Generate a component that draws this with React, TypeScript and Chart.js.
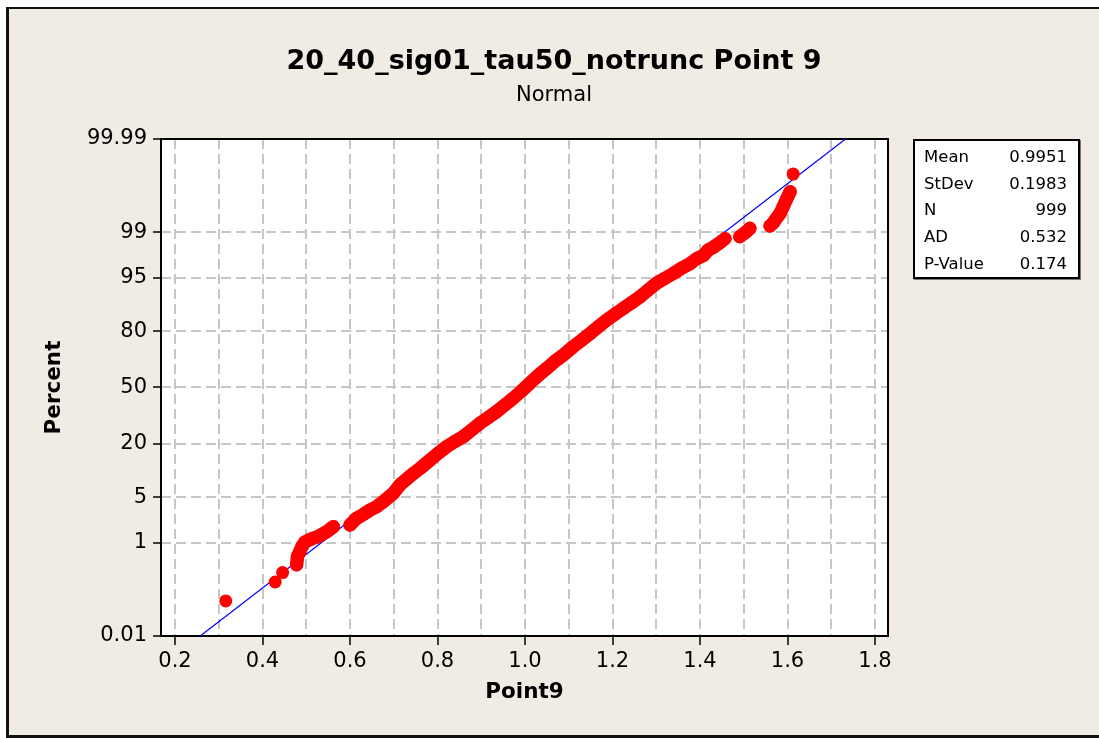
import React, { useEffect, useRef } from "react";
import { Chart, registerables } from "chart.js";

Chart.register(...registerables);

const FONT = "'DejaVu Sans', Verdana, sans-serif";

const chartTitle = "20_40_sig01_tau50_notrunc Point 9";
const chartSubtitle = "Normal";
const xAxisTitle = "Point9";
const yAxisTitle = "Percent";

const xTickLabels = [0.2, 0.4, 0.6, 0.8, 1.0, 1.2, 1.4, 1.6, 1.8];
const xGridValues = [0.2, 0.3, 0.4, 0.5, 0.6, 0.7, 0.8, 0.9, 1.0, 1.1, 1.2, 1.3, 1.4, 1.5, 1.6, 1.7, 1.8];
const yTickPercents = [0.01, 1, 5, 20, 50, 80, 95, 99, 99.99];
const yTickLabels = ["0.01", "1", "5", "20", "50", "80", "95", "99", "99.99"];

// points: data value and plotted percent
const pointX = [
  0.316, 0.429, 0.446, 0.478, 0.48, 0.49, 0.497, 0.509, 0.528, 0.547, 0.562,
  0.6, 0.615, 0.63, 0.646, 0.661, 0.676, 0.699, 0.714, 0.73, 0.745, 0.764, 0.783,
  0.801, 0.821, 0.84, 0.859, 0.878, 0.897, 0.916, 0.935, 0.954, 0.973, 0.992,
  1.011, 1.03, 1.05, 1.069, 1.088, 1.11, 1.13, 1.149, 1.168, 1.187, 1.206, 1.225,
  1.244, 1.263, 1.282, 1.301, 1.32, 1.339, 1.358, 1.377, 1.392, 1.408, 1.418,
  1.43, 1.446, 1.457, 1.491, 1.505, 1.514, 1.56, 1.568, 1.575, 1.583, 1.59,
  1.597, 1.606, 1.613,
];
const pointPercent = [
  0.07, 0.18, 0.28, 0.4, 0.57, 0.86, 1.04, 1.15, 1.29, 1.55, 1.86,
  1.98, 2.51, 2.87, 3.34, 3.72, 4.37, 5.67, 7.23, 8.55, 9.96, 11.7, 13.9,
  16.2, 18.8, 21.0, 23.1, 26.2, 29.6, 32.7, 35.9, 39.7, 43.6, 47.9,
  52.5, 57.1, 61.3, 65.4, 68.7, 72.9, 76.1, 79.1, 81.9, 84.4, 86.4, 88.2,
  89.8, 91.3, 92.8, 94.1, 94.9, 95.6, 96.3, 96.8, 97.3, 97.6, 98.0,
  98.2, 98.5, 98.7, 98.8, 99.0, 99.14, 99.22, 99.32, 99.44, 99.54, 99.66,
  99.75, 99.83, 99.93,
];
// indices where a new contiguous run of points begins
const segmentStarts = [0, 1, 2, 3, 11, 60, 63, 70];

const statLabels = ["Mean", "StDev", "N", "AD", "P-Value"];
const statValues = ["0.9951", "0.1983", "999", "0.532", "0.174"];
const fitMean = 0.9951;
const fitStDev = 0.1983;

function probit(p: number): number {
  const a = [-3.969683028665376e1, 2.209460984245205e2, -2.759285104469687e2, 1.38357751867269e2, -3.066479806614716e1, 2.506628277459239];
  const b = [-5.447609879822406e1, 1.615858368580409e2, -1.556989798598866e2, 6.680131188771482e1, -1.328068155288572e1];
  const c = [-7.784894002430293e-3, -3.223964580411365e-1, -2.400758277161838, -2.549732539343734, 4.374664141464968, 2.938163982698783];
  const d = [7.784695709041462e-3, 3.224671290700398e-1, 2.445134137142996, 3.754408661907416];
  const pl = 0.02425;
  const ph = 1 - pl;
  if (p < pl) {
    const q = Math.sqrt(-2 * Math.log(p));
    return (((((c[0] * q + c[1]) * q + c[2]) * q + c[3]) * q + c[4]) * q + c[5]) / ((((d[0] * q + d[1]) * q + d[2]) * q + d[3]) * q + 1);
  }
  if (p <= ph) {
    const q = p - 0.5;
    const r = q * q;
    return ((((((a[0] * r + a[1]) * r + a[2]) * r + a[3]) * r + a[4]) * r + a[5]) * q) / (((((b[0] * r + b[1]) * r + b[2]) * r + b[3]) * r + b[4]) * r + 1);
  }
  const q = Math.sqrt(-2 * Math.log(1 - p));
  return -(((((c[0] * q + c[1]) * q + c[2]) * q + c[3]) * q + c[4]) * q + c[5]) / ((((d[0] * q + d[1]) * q + d[2]) * q + d[3]) * q + 1);
}

const isLabeledX = (v: number) => xTickLabels.some((t) => Math.abs(t - v) < 1e-6);

const framePlugin = {
  id: "minitabFrame",
  beforeDraw(chart: any) {
    const { ctx, width, height, chartArea } = chart;
    ctx.save();
    ctx.fillStyle = "#ffffff";
    ctx.fillRect(0, 0, width, height);
    ctx.fillStyle = "#F0ECE3";
    ctx.fillRect(6, 7, width - 6, height - 7);
    ctx.fillStyle = "#111111";
    ctx.fillRect(6, 7, 3, height - 7);
    ctx.fillRect(6, 7, width - 6, 2);
    ctx.fillRect(6, height - 3, width - 6, 3);
    ctx.fillStyle = "#ffffff";
    ctx.fillRect(chartArea.left, chartArea.top, chartArea.right - chartArea.left, chartArea.bottom - chartArea.top);
    ctx.restore();
  },
  beforeDatasetsDraw(chart: any) {
    const { ctx, chartArea } = chart;
    ctx.save();
    ctx.strokeStyle = "#000000";
    ctx.lineWidth = 2;
    ctx.strokeRect(chartArea.left, chartArea.top, chartArea.right - chartArea.left, chartArea.bottom - chartArea.top);
    ctx.restore();
  },
};

export default function App() {
  const ref = useRef<HTMLCanvasElement>(null);

  useEffect(() => {
    const canvas = ref.current;
    if (!canvas) return;
    const yMin = probit(yTickPercents[0] / 100);
    const yMax = probit(yTickPercents[yTickPercents.length - 1] / 100);
    const pts = pointX.map((x, i) => ({ x, y: probit(pointPercent[i] / 100) }));
    const segs = segmentStarts.map((s, k) =>
      pts.slice(s, k + 1 < segmentStarts.length ? segmentStarts[k + 1] : pts.length)
    );

    const datasets: any[] = [
      {
        label: "points",
        data: pts,
        showLine: false,
        pointRadius: 6.5,
        pointHoverRadius: 6.5,
        pointBorderWidth: 0,
        pointBackgroundColor: "#ff0000",
        backgroundColor: "#ff0000",
        borderColor: "#ff0000",
      },
      ...segs
        .filter((s) => s.length > 1)
        .map((s, k) => ({
          label: "band" + k,
          data: s,
          showLine: true,
          borderColor: "#ff0000",
          borderWidth: 13.5,
          borderCapStyle: "round",
          borderJoinStyle: "round",
          pointRadius: 0,
          pointHoverRadius: 0,
        })),
      {
        label: "fit",
        data: [
          { x: fitMean + yMin * fitStDev, y: yMin },
          { x: fitMean + yMax * fitStDev, y: yMax },
        ],
        showLine: true,
        borderColor: "#0000ff",
        borderWidth: 1.2,
        pointRadius: 0,
        pointHoverRadius: 0,
      },
    ];

    const chart = new Chart(canvas, {
      type: "scatter",
      data: { datasets },
      plugins: [framePlugin],
      options: {
        responsive: false,
        animation: false,
        events: [],
        layout: { padding: { left: 9, right: 0, top: 0, bottom: 0 } },
        plugins: {
          legend: { display: false },
          tooltip: { enabled: false },
          title: {
            display: true,
            text: chartTitle,
            color: "#000",
            font: { family: FONT, size: 27, weight: "bold", lineHeight: 1.2 },
            padding: { top: 46, bottom: 0 },
          },
          subtitle: {
            display: true,
            text: chartSubtitle,
            color: "#000",
            font: { family: FONT, size: 21, weight: "normal", lineHeight: 1.2 },
            padding: { top: 4.2, bottom: 31.2 },
          },
        },
        scales: {
          x: {
            type: "linear",
            position: "bottom",
            min: 0.168,
            max: 1.8297,
            afterBuildTicks: (s: any) => {
              s.ticks = xGridValues.map((v) => ({ value: v }));
            },
            afterFit: (s: any) => {
              s.height = 102;
            },
            ticks: {
              autoSkip: false,
              maxRotation: 0,
              padding: 4,
              color: "#000",
              font: { family: FONT, size: 21 },
              callback: (v: any) => (isLabeledX(Number(v)) ? Number(v).toFixed(1) : ""),
            },
            grid: {
              color: "#c6c6c6",
              lineWidth: 2,
              tickColor: (ctx: any) => (ctx.tick && !isLabeledX(ctx.tick.value) ? "rgba(0,0,0,0)" : "#000"),
              tickLength: 9,
              tickWidth: 1.5,
              tickBorderDash: [],
            },
            border: { display: false, dash: [10, 5] },
            title: {
              display: true,
              text: xAxisTitle,
              color: "#000",
              font: { family: FONT, size: 21.5, weight: "bold", lineHeight: 1.2 },
              padding: { top: 0, bottom: 33 },
            },
          },
          y: {
            type: "linear",
            position: "left",
            min: yMin,
            max: yMax,
            afterBuildTicks: (s: any) => {
              s.ticks = yTickPercents.map((p) => ({ value: probit(p / 100) }));
            },
            afterFit: (s: any) => {
              s.width = 152;
            },
            ticks: {
              autoSkip: false,
              padding: 6,
              color: "#000",
              font: { family: FONT, size: 21 },
              callback: (_v: any, i: number) => yTickLabels[i],
            },
            grid: {
              color: "#c6c6c6",
              lineWidth: 2,
              tickColor: "#000",
              tickLength: 8,
              tickWidth: 1.5,
              tickBorderDash: [],
            },
            border: { display: false, dash: [10, 5] },
            title: {
              display: true,
              text: yAxisTitle,
              color: "#000",
              font: { family: FONT, size: 21.5, weight: "bold", lineHeight: 1.2 },
              padding: { top: 33, bottom: 0 },
            },
          },
          yR: {
            type: "linear",
            position: "right",
            display: true,
            grid: { display: false },
            ticks: { display: false },
            border: { display: false },
            afterFit: (s: any) => {
              s.width = 211;
            },
          },
        },
      } as any,
    });
    return () => chart.destroy();
  }, []);

  return (
    <div style={{ position: "fixed", left: 0, top: 0, width: 1099, height: 738, background: "#fff", overflow: "hidden" }}>
      <canvas ref={ref} width={1099} height={738} style={{ position: "absolute", left: 0, top: 0, display: "block" }} />
      <div
        style={{
          position: "absolute",
          left: 913,
          top: 139,
          width: 167,
          height: 140,
          boxSizing: "border-box",
          border: "2px solid #000",
          background: "#fff",
          boxShadow: "1px 1px 0 #777",
          fontFamily: FONT,
          fontSize: 16.5,
          color: "#000",
        }}
      >
        {statLabels.map((l, i) => (
          <div
            key={l}
            style={{
              position: "absolute",
              left: 9,
              right: 11,
              top: 3 + i * 26.7,
              height: 26,
              lineHeight: "26px",
              display: "flex",
              justifyContent: "space-between",
              whiteSpace: "nowrap",
            }}
          >
            <span>{l}</span>
            <span>{statValues[i]}</span>
          </div>
        ))}
      </div>
    </div>
  );
}
